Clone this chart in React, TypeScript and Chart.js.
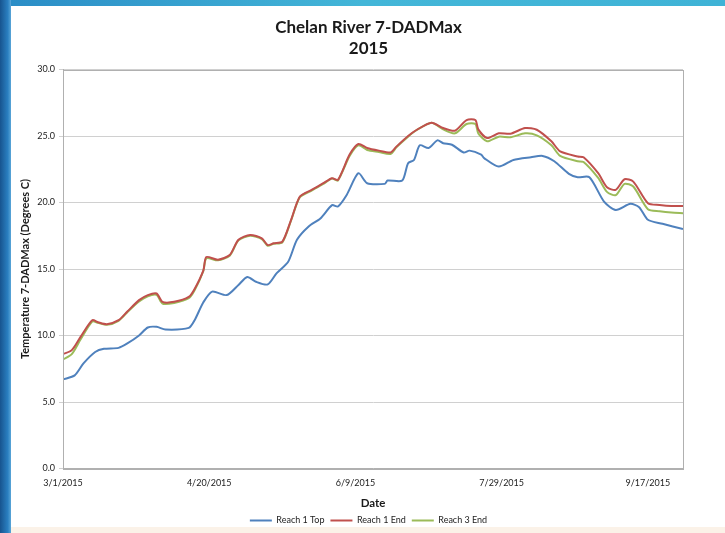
import React, { useEffect, useRef } from "react";
import { Chart, registerables } from "chart.js";
Chart.register(...registerables);

const titleLines = ["Chelan River 7-DADMax", "2015"];
const xTitle = "Date";
const yTitle = "Temperature 7-DADMax (Degrees C)";
const seriesNames = ["Reach 1 Top", "Reach 1 End", "Reach 3 End"];
const seriesColors = ["#4f81bd", "#c0504d", "#9bbb59"];

// days since 3/1/2015
const reach1TopDays = [0, 4, 7, 11, 14, 19, 22, 26, 29, 32, 35, 43, 45, 48, 51, 56, 60, 63, 66, 70, 73, 77, 80, 84, 88, 92, 94, 97, 101, 104, 110, 111, 116, 118, 120, 122, 125, 128, 130, 133, 137, 139, 143, 144, 149, 154, 160, 164, 168, 173, 176, 180, 185, 189, 194, 197, 200, 205, 212];
const reach1TopValues = [6.7, 7.0, 7.9, 8.76, 9.0, 9.07, 9.4, 10.0, 10.6, 10.65, 10.45, 10.57, 11.15, 12.5, 13.3, 13.04, 13.8, 14.4, 14.04, 13.84, 14.67, 15.55, 17.2, 18.2, 18.8, 19.8, 19.7, 20.57, 22.2, 21.45, 21.4, 21.65, 21.65, 22.96, 23.2, 24.3, 24.1, 24.67, 24.46, 24.34, 23.76, 23.9, 23.6, 23.34, 22.7, 23.2, 23.4, 23.5, 23.1, 22.15, 21.9, 21.9, 20.07, 19.44, 19.9, 19.65, 18.7, 18.4, 18.0];

const endDays = [0, 3, 6, 10, 12, 15, 19, 22, 26, 29, 32, 34, 38, 43, 45, 48, 49, 53, 57, 60, 64, 68, 70, 72, 75, 78, 81, 85, 89, 92, 94, 98, 101, 104, 108, 112, 114, 118, 121, 126, 130, 134, 138, 141, 142, 145, 149, 153, 158, 162, 167, 170, 176, 178, 183, 186, 189, 192, 195, 200, 204, 208, 212];
const reach1EndValues = [8.6, 8.9, 9.9, 11.15, 11.0, 10.85, 11.15, 11.8, 12.66, 13.04, 13.16, 12.53, 12.53, 12.9, 13.5, 14.9, 15.9, 15.7, 16.05, 17.2, 17.56, 17.3, 16.8, 16.93, 17.06, 18.7, 20.45, 20.95, 21.45, 21.83, 21.7, 23.6, 24.4, 24.1, 23.9, 23.76, 24.2, 25.0, 25.47, 26.0, 25.6, 25.4, 26.2, 26.2, 25.5, 24.85, 25.2, 25.17, 25.6, 25.47, 24.6, 23.84, 23.46, 23.4, 22.2, 21.15, 20.95, 21.75, 21.57, 19.95, 19.82, 19.74, 19.74];
const reach3EndValues = [8.2, 8.6, 9.7, 11.05, 10.95, 10.8, 11.1, 11.75, 12.55, 12.95, 13.05, 12.4, 12.45, 12.8, 13.4, 14.85, 15.8, 15.65, 16.0, 17.15, 17.5, 17.25, 16.75, 16.9, 17.0, 18.65, 20.4, 20.9, 21.4, 21.8, 21.65, 23.5, 24.3, 23.95, 23.8, 23.65, 24.15, 24.95, 25.45, 26.0, 25.5, 25.2, 25.9, 25.9, 25.2, 24.6, 24.95, 24.9, 25.2, 25.05, 24.3, 23.5, 23.1, 23.05, 21.85, 20.8, 20.55, 21.4, 21.2, 19.5, 19.35, 19.25, 19.2];

const xMin = 0;
const xMax = 212;
const xStep = 50;
const yMin = 0;
const yMax = 30;
const yStep = 5;

const toPoints = (days: number[], vals: number[]) => days.map((d, i) => ({ x: d, y: vals[i] }));

const fmtDate = (v: number) => {
  const d = new Date(2015, 2, 1 + Math.round(v));
  return `${d.getMonth() + 1}/${d.getDate()}/${d.getFullYear()}`;
};

const plotBorder = {
  id: "plotBorder",
  afterDraw(chart: any) {
    const { ctx, chartArea } = chart;
    ctx.save();
    ctx.strokeStyle = "#b0b0b0";
    ctx.lineWidth = 1;
    ctx.strokeRect(Math.round(chartArea.left) + 0.5, Math.round(chartArea.top) + 0.5, Math.round(chartArea.right - chartArea.left), Math.round(chartArea.bottom - chartArea.top));
    ctx.restore();
  },
};

export default function App() {
  const ref = useRef<HTMLCanvasElement | null>(null);
  useEffect(() => {
    if (!ref.current) return;
    Chart.defaults.font.family = "Lato, 'Open Sans', sans-serif";
    const chart = new Chart(ref.current, {
      type: "line",
      data: {
        datasets: [
          { label: seriesNames[0], data: toPoints(reach1TopDays, reach1TopValues), borderColor: seriesColors[0], backgroundColor: seriesColors[0] },
          { label: seriesNames[1], data: toPoints(endDays, reach1EndValues), borderColor: seriesColors[1], backgroundColor: seriesColors[1] },
          { label: seriesNames[2], data: toPoints(endDays, reach3EndValues), borderColor: seriesColors[2], backgroundColor: seriesColors[2] },
        ].map((d) => ({ ...d, borderWidth: 2, pointRadius: 0, tension: 0.25, fill: false })),
      },
      options: {
        animation: false,
        responsive: false,
        maintainAspectRatio: false,
        layout: { padding: { left: 12, right: 0, top: 0, bottom: -2 } },
        plugins: {
          title: {
            display: true,
            text: titleLines,
            color: "#1a1a1a",
            font: { size: 17, weight: "bold", lineHeight: 1.25 },
            padding: { top: 17, bottom: 10 },
          },
          legend: {
            display: true,
            position: "bottom",
            labels: {
              usePointStyle: true,
              pointStyle: "line",
              pointStyleWidth: 22,
              boxHeight: 6,
              font: { size: 9 },
              color: "#222",
              padding: 6,
            },
          },
          tooltip: { enabled: false },
        },
        scales: {
          x: {
            type: "linear",
            min: xMin,
            max: xMax,
            grid: { display: false, drawTicks: false },
            border: { display: true, color: "#b0b0b0" },
            ticks: {
              stepSize: xStep,
              includeBounds: false,
              autoSkip: false,
              maxRotation: 0,
              padding: 9,
              font: { size: 9 },
              color: "#222",
              callback: (v: any) => fmtDate(Number(v)),
            },
            title: { display: true, text: xTitle, font: { size: 11.5, weight: "bold" }, color: "#1a1a1a", padding: { top: 1, bottom: 0 } },
            afterFit: (s: any) => { s.height = 41.5; },
          },
          y: {
            min: yMin,
            max: yMax,
            grid: { color: "#d0d0d0", drawTicks: true, tickLength: 4 },
            border: { display: true, color: "#b0b0b0" },
            ticks: {
              stepSize: yStep,
              padding: 4,
              font: { size: 9 },
              color: "#222",
              callback: (v: any) => Number(v).toFixed(1),
            },
            title: { display: true, text: yTitle, font: { size: 11, weight: "bold" }, color: "#1a1a1a", padding: { top: 6.5, bottom: 0 } },
            afterFit: (s: any) => { s.width = 51; },
          },
          y2: {
            position: "right",
            display: true,
            min: yMin,
            max: yMax,
            grid: { display: false, drawTicks: false },
            border: { display: false },
            ticks: { display: false },
            afterFit: (s: any) => { s.width = 42; },
          },
        },
      },
      plugins: [plotBorder],
    } as any);
    return () => chart.destroy();
  }, []);

  return (
    <div style={{ position: "fixed", left: 0, top: 0, width: 725, height: 533, background: "#ffffff", overflow: "hidden" }}>
      <div style={{ position: "absolute", left: 0, top: 0, width: 725, height: 6, background: "linear-gradient(to right, #2a8cc6, #43b6d8 50%, #3fb3d6)" }} />
      <div style={{ position: "absolute", left: 0, top: 0, width: 11, height: 533, background: "linear-gradient(to right, #17548f, #2a7fc0 70%, #5aa6d8)" }} />
      <div style={{ position: "absolute", left: 11, top: 527, width: 714, height: 6, background: "#fbf2e8" }} />
      <canvas ref={ref} width={725} height={533} style={{ position: "absolute", left: 0, top: 0, width: 725, height: 533 }} />
    </div>
  );
}
